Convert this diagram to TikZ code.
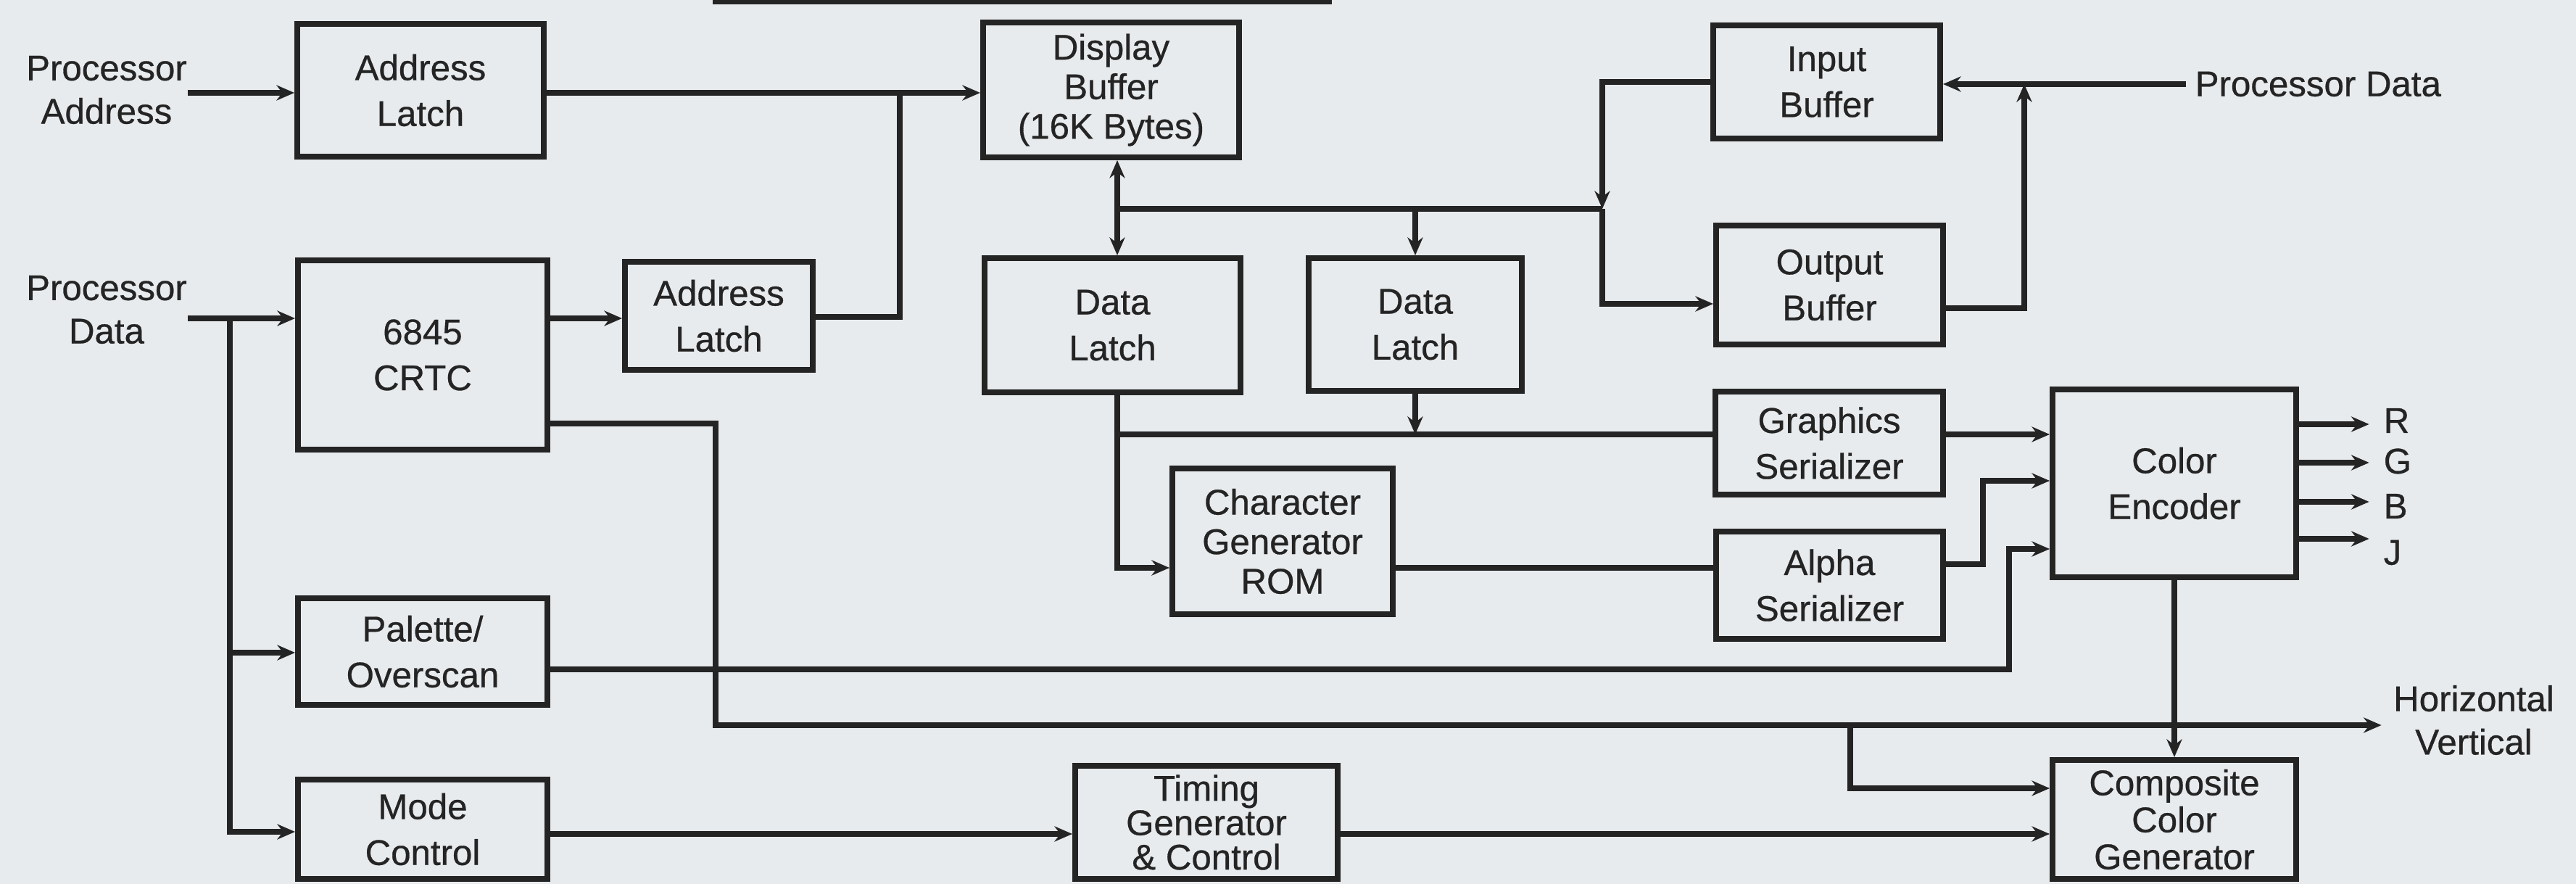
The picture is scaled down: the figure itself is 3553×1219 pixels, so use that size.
\documentclass[tikz,border=0pt]{standalone}
\usepackage{fontspec}
\setmainfont{Liberation Sans}[FakeBold=0.6]
\usetikzlibrary{arrows.meta}
\definecolor{paper}{RGB}{232,235,237}
\definecolor{ink}{RGB}{36,36,36}
\tikzset{
  box/.style={draw=ink, line width=2.2pt, inner sep=0pt, align=center, text=ink, font=\fontsize{14}{18}\selectfont},
  lbl/.style={inner sep=0pt, align=center, text=ink, font=\fontsize{14}{17}\selectfont},
  wire/.style={draw=ink, line width=2.2pt},
  arr/.style={wire, -{Stealth[length=7pt,width=6pt]}},
  darr/.style={wire, {Stealth[length=7pt,width=6pt]}-{Stealth[length=7pt,width=6pt]}},
  tight/.style={font=\fontsize{14}{15.5}\selectfont},
}
\newcommand{\blk}[7][]{\node[box,#1,minimum width={(#5-#3)*0.28453pt},minimum height={(#6-#4)*0.28453pt}] (#2) at ({(#3+#5)/2},{(#4+#6)/2}) {#7};}
\begin{document}
\begin{tikzpicture}[x=0.01cm,y=-0.01cm]
\fill[paper] (0,0) rectangle (3553,1219);
\useasboundingbox (0,0) rectangle (3553,1219);

% blocks
\blk{al1}{410}{33}{750}{216}{Address\\Latch}
\blk{crtc}{411}{359}{755}{620}{6845\\CRTC}
\blk{al2}{862}{361}{1121}{510}{Address\\Latch}
\blk{pal}{411}{825}{755}{972}{Palette/\\Overscan}
\blk{mode}{411}{1075}{755}{1212}{Mode\\Control}
\blk[tight]{db}{1356}{31}{1709}{217}{Display\\Buffer\\(16K Bytes)}
\blk{dl1}{1358}{356}{1711}{541}{Data\\Latch}
\blk{dl2}{1805}{356}{2099}{539}{Data\\Latch}
\blk{ib}{2363}{35}{2676}{191}{Input\\Buffer}
\blk{ob}{2367}{311}{2680}{475}{Output\\Buffer}
\blk{gs}{2366}{540}{2680}{682}{Graphics\\Serializer}
\blk[tight]{cg}{1617}{646}{1921}{847}{Character\\Generator\\ROM}
\blk{as}{2367}{733}{2680}{881}{Alpha\\Serializer}
\blk{ce}{2831}{537}{3167}{796}{Color\\Encoder}
\blk[font=\fontsize{14}{13.5}\selectfont]{tg}{1483}{1056}{1845}{1212}{Timing\\Generator\\\& Control}
\blk[font=\fontsize{14}{14.5}\selectfont]{ccg}{2831}{1048}{3167}{1212}{Composite\\Color\\Generator}

% free labels
\node[lbl] (paddr) at (147,124) {Processor\\Address};
\node[lbl] (pdata) at (147,427) {Processor\\Data};
\node[lbl,anchor=west] (pdr) at (3027,116) {Processor Data};
\node[lbl] (hv) at (3412,993) {Horizontal\\Vertical};
\node[lbl,anchor=west] (r) at (3287,580) {R};
\node[lbl,anchor=west] (g) at (3287,636) {G};
\node[lbl,anchor=west] (b) at (3287,698) {B};
\node[lbl,anchor=west] (i) at (3287,762) {J};

% title underline (cut off at top)
\coordinate (ul1) at (983,2);
\coordinate (ul2) at (1837,2);
\draw[wire] (ul1) -- (ul2);

% address path
\draw[arr] (paddr.east |- 0,128) -- (al1.west |- 0,128);
\draw[arr] (al1.east |- 0,128) -- (db.west |- 0,128);
\coordinate (j1) at (1241,128);
\draw[wire] (al2.east |- 0,437) -| (j1);
\draw[arr] (crtc.east |- 0,439) -- (al2.west |- 0,439);

% processor data (left)
\coordinate (pdj) at (317,439);
\draw[arr] (pdata.east |- pdj) -- (crtc.west |- pdj);
\draw[arr] (pdj) |- (pal.west |- 0,900);
\draw[arr] (pdj) |- (mode.west |- 0,1147);

% CRTC sync to Horizontal/Vertical
\coordinate (cb) at (987,1000);
\coordinate (hvj) at (2552,1000);
\draw[arr, shorten >=4.5pt] (crtc.east |- 0,584) -| (cb) -- (hv.west |- cb);
\draw[arr] (hvj) |- (ccg.west |- 0,1087);

% palette to color encoder
\coordinate (pv) at (2771,757);
\draw[arr] (pal.east |- 0,923) -| (pv) -- (ce.west |- pv);

% mode / timing
\draw[arr] (mode.east |- 0,1150) -- (tg.west |- 0,1150);
\draw[arr] (tg.east |- 0,1150) -- (ccg.west |- 0,1150);

% display buffer bus
\draw[darr] (1541,0 |- db.south) -- (1541,0 |- dl1.north);
\coordinate (bl) at (1541,288);
\coordinate (br) at (2210,288);
\draw[wire] (bl) -- (br);
\draw[arr] (dl2.north |- bl) -- (dl2.north);
\draw[arr] (ib.west) -| (br);
\draw[arr] (br) |- (ob.west |- 0,419);

% processor data (right)
\coordinate (pdj2) at (2792,116);
\draw[arr, shorten <=3.5pt] (pdr.west) -- (ib.east |- pdr.west);
\draw[arr] (ob.east |- 0,425) -| (pdj2);

% latches to serializers
\coordinate (dj) at (1541,599);
\draw[wire] (1541,0 |- dl1.south) -- (dj) -- (gs.west |- dj);
\draw[arr] (dl2.south) -- (dl2.south |- dj);
\draw[arr] (dj) |- (cg.west |- 0,783);
\draw[wire] (cg.east |- 0,783) -- (as.west |- 0,783);
\draw[arr] (gs.east |- dj) -- (ce.west |- dj);
\coordinate (av) at (2735,663);
\draw[arr] (as.east |- 0,778) -| (av) -- (ce.west |- av);

% outputs
\draw[arr, shorten >=5.5pt] (ce.east |- 0,585) -- (r.west |- 0,585);
\draw[arr, shorten >=5.5pt] (ce.east |- 0,638) -- (g.west |- 0,638);
\draw[arr, shorten >=5.5pt] (ce.east |- 0,692) -- (b.west |- 0,692);
\draw[arr, shorten >=5.5pt] (ce.east |- 0,743) -- (i.west |- 0,743);
\draw[arr] (ce.south) -- (ccg.north);
\end{tikzpicture}
\end{document}
